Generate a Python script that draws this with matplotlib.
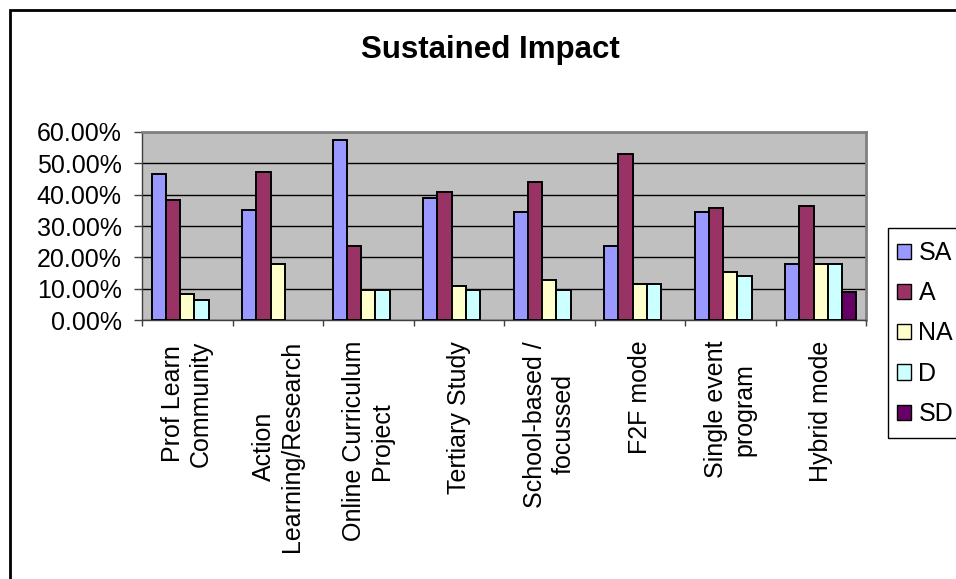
import matplotlib
matplotlib.use("Agg")
import matplotlib.pyplot as plt
from matplotlib.patches import Patch, Rectangle
from matplotlib.ticker import FuncFormatter, FixedLocator
import numpy as np

plt.rcParams['font.family'] = ['Liberation Sans', 'DejaVu Sans']

categories = ["Prof Learn\nCommunity", "Action\nLearning/Research",
              "Online Curriculum\nProject", "Tertiary Study",
              "School-based /\nfocussed", "F2F mode",
              "Single event\nprogram", "Hybrid mode"]
series = ["SA", "A", "NA", "D", "SD"]
sa = [46.6, 35.1, 57.3, 38.9, 34.4, 23.6, 34.4, 17.9]
a = [38.3, 47.1, 23.5, 41.0, 44.0, 53.1, 35.7, 36.4]
na = [8.3, 17.9, 9.5, 10.9, 12.7, 11.4, 15.3, 17.9]
d = [6.3, 0.0, 9.5, 9.5, 9.5, 11.4, 14.0, 17.9]
sd = [0.0, 0.0, 0.0, 0.0, 0.0, 0.0, 0.0, 8.9]
colors = ["#9999FF", "#993366", "#FFFFCC", "#CCFFFF", "#660066"]

W, H = 956, 579
fig = plt.figure(figsize=(W / 100, H / 100), dpi=100)
ax = fig.add_axes([142 / W, 1 - 320 / H, (866 - 142) / W, (320 - 132) / H])
ax.set_facecolor("#C0C0C0")

x = np.arange(len(categories))
bw = 0.158
for i, vals in enumerate([sa, a, na, d, sd]):
    # empty bars get no outline, as in the original
    lw = [1.4 if v > 0 else 0 for v in vals]
    ax.bar(x + (i - 2) * bw, vals, width=bw, color=colors[i],
           edgecolor="black", linewidth=lw, zorder=3)

ax.set_xlim(-0.5, len(categories) - 0.5)
ax.set_ylim(0, 60)
ax.set_yticks(np.arange(0, 61, 10))
ax.yaxis.set_major_formatter(FuncFormatter(lambda v, p: f"{v:.2f}%"))
ax.yaxis.grid(True, color="black", linewidth=1, zorder=1)
ax.set_axisbelow(True)

ax.set_xticks(x)
ax.set_xticklabels(categories, rotation=90, ha="center", va="top",
                   multialignment="center")
ax.xaxis.set_minor_locator(FixedLocator(np.arange(-0.5, len(categories), 1)))
ax.tick_params(axis="x", which="major", length=0, pad=15, labelsize=18)
ax.tick_params(axis="x", which="minor", length=4, width=1, color="#404040",
               direction="out")
ax.tick_params(axis="y", length=5.5, width=1, color="#404040", pad=9,
               labelsize=18)

for s in ["left", "bottom"]:
    ax.spines[s].set_color("#404040")
    ax.spines[s].set_linewidth(1)
for s in ["top", "right"]:
    ax.spines[s].set_color("#808080")
    ax.spines[s].set_linewidth(2)

fig.text(490 / W, 1 - 50 / H, "Sustained Impact", ha="center", va="center",
         fontsize=22.5, fontweight="bold")

# legend box runs off the right edge in the original, so draw the frame apart
handles = [Patch(facecolor=c, edgecolor="black", linewidth=1) for c in colors]
fig.legend(handles, series, loc="upper left",
           bbox_to_anchor=(897 / W, 1 - 241 / H), borderaxespad=0,
           fontsize=18, handlelength=0.56, handleheight=0.56,
           handletextpad=0.3, labelspacing=0.65, borderpad=0,
           frameon=False)
fig.patches.append(Rectangle((888 / W, 1 - 438 / H), 0.2, (438 - 228) / H,
                             transform=fig.transFigure, facecolor="white",
                             edgecolor="black", linewidth=1, zorder=0))

fig.patches.append(Rectangle((9.5 / W, -0.1), 1.2, 1 - 10 / H + 0.1,
                             transform=fig.transFigure, fill=False,
                             edgecolor="black", linewidth=2))

fig.savefig("out.png", dpi=100)
